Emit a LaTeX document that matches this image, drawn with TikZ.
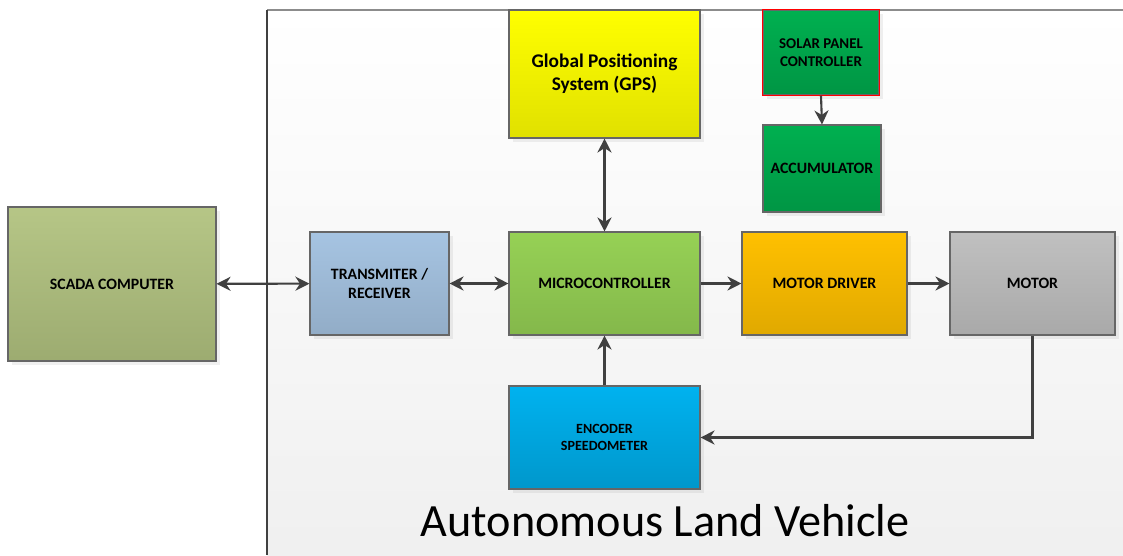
\documentclass[tikz,border=0pt]{standalone}
\usepackage{fontspec}
\setmainfont{Carlito}
\usepackage{tikz}
\definecolor{scadagreen}{HTML}{B2C380}
\definecolor{trxblue}{HTML}{A6C4E2}
\definecolor{mcugreen}{HTML}{96D155}
\definecolor{drvorange}{HTML}{FFC000}
\definecolor{motorgray}{HTML}{C0C0C0}
\definecolor{gpsyellow}{HTML}{FFFF00}
\definecolor{solargreen}{HTML}{00B050}
\definecolor{encblue}{HTML}{00B2EF}
\definecolor{linegray}{HTML}{404040}
\usetikzlibrary{arrows.meta,shadows}

\begin{document}
\begin{tikzpicture}[
    box/.style={rectangle,draw=linegray!80,line width=0.6pt,align=center,
      font=\bfseries\fontsize{9}{11}\selectfont,
      drop shadow={opacity=0.12,shadow xshift=2pt,shadow yshift=-2pt}},
    link/.style={draw=linegray,line width=1.2pt,
      -{Stealth[length=8pt,width=8pt]}},
    dlink/.style={link,{Stealth[length=8pt,width=8pt]}-{Stealth[length=8pt,width=8pt]}}]
  \useasboundingbox (0,0) rectangle (22.46,11.1);

  % vehicle frame
  \shade[top color=white,bottom color=black!6] (5.34,0) rectangle (22.46,10.9);
  \draw[black!45,line width=0.8pt] (5.34,10.9) -- (22.46,10.9);
  \draw[black!75,line width=0.6pt] (5.34,0) -- (5.34,10.9);

  \node[box,top color=scadagreen!95!white,bottom color=scadagreen!88!black,
    minimum width=4.16cm,minimum height=3.08cm] at (2.24,5.42) (scada) {SCADA COMPUTER};

  \node[box,top color=trxblue,bottom color=trxblue!88!black,
    minimum width=2.78cm,minimum height=2.06cm] at (7.59,5.43) (trx) {TRANSMITER /\\RECEIVER};

  \node[box,top color=mcugreen,bottom color=mcugreen!88!black,
    minimum width=3.82cm,minimum height=2.06cm] at (12.09,5.43) (mcu) {MICROCONTROLLER};

  \node[box,top color=drvorange,bottom color=drvorange!88!black,
    minimum width=3.3cm,minimum height=2.06cm] at (16.49,5.43) (drv) {MOTOR DRIVER};

  \node[box,top color=motorgray,bottom color=motorgray!88!black,
    minimum width=3.3cm,minimum height=2.06cm] at (20.65,5.43) (motor) {MOTOR};

  \node[box,top color=gpsyellow,bottom color=gpsyellow!88!black,
    font=\bfseries\fontsize{11}{13}\selectfont,
    minimum width=3.82cm,minimum height=2.56cm] at (12.09,9.62) (gps) {Global Positioning\\System (GPS)};

  \node[box,top color=solargreen,bottom color=solargreen!85!black,
    font=\bfseries\fontsize{8.5}{10.5}\selectfont,
    minimum width=2.32cm,minimum height=1.7cm] at (16.42,10.05) (solar) {SOLAR PANEL\\CONTROLLER};
  \draw[red,line width=0.6pt] (solar.north west) rectangle (solar.south east);

  \node[box,top color=solargreen,bottom color=solargreen!85!black,
    minimum width=2.36cm,minimum height=1.74cm] at (16.44,7.73) (accu) {ACCUMULATOR};

  \node[box,top color=encblue,bottom color=encblue!85!black,
    font=\bfseries\fontsize{8}{10}\selectfont,
    minimum width=3.82cm,minimum height=2.06cm] at (12.09,2.35) (enc) {ENCODER\\SPEEDOMETER};

  \node[font=\fontsize{26.3}{30}\selectfont] at (13.3,0.68) (title) {Autonomous Land Vehicle};

  % connections
  \draw[dlink] (scada) -- (trx);
  \draw[dlink] (trx) -- (mcu);
  \draw[link] (mcu) -- (drv);
  \draw[link] (drv) -- (motor);
  \draw[dlink] (gps) -- (mcu);
  \draw[link] (enc) -- (mcu);
  \draw[link] (solar.south) -- (accu.north);
  \draw[link] (motor.south) |- (enc.east);

\end{tikzpicture}
\end{document}
